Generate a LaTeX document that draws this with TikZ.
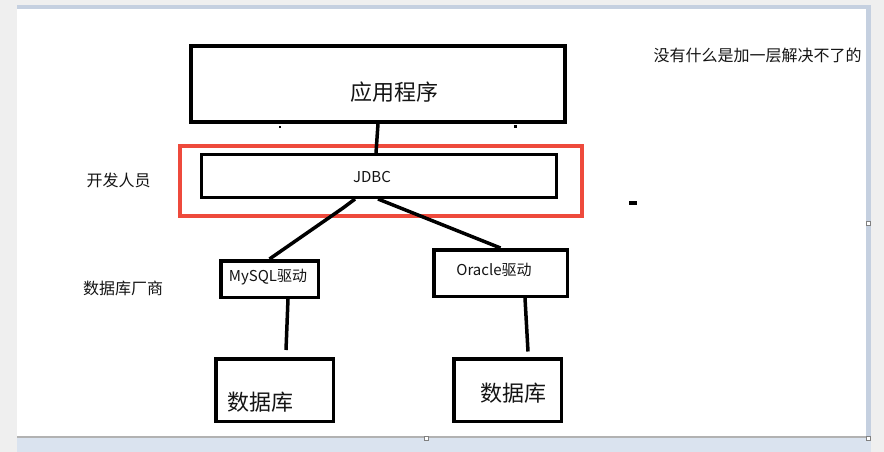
\documentclass[tikz,border=0pt]{standalone}
\usepackage{fontspec}
\setmainfont{Noto Sans CJK SC}
\definecolor{outergray}{RGB}{239,239,239}
\definecolor{bluebar}{RGB}{218,227,239}
\definecolor{blueline}{RGB}{197,208,224}
\definecolor{redframe}{RGB}{238,74,60}
\definecolor{txt}{RGB}{20,20,20}
\begin{document}
\begin{tikzpicture}[x=1pt,y=-1pt,
  box/.style={draw=black, line width=3.5pt, inner sep=0pt, fill=none},
  thinbox/.style={draw=black, line width=3pt, inner sep=0pt},
  wire/.style={draw=black, line width=3.5pt},
  lbl/.style={inner sep=0pt, text=txt, font=\fontsize{16}{19}\selectfont},
  biglbl/.style={inner sep=0pt, text=txt, font=\fontsize{22}{26}\selectfont},
  handle/.style={draw=gray, fill=white, line width=0.6pt, inner sep=0pt, minimum size=4pt}]
\useasboundingbox (0,0) rectangle (884,452);
% window background
\fill[outergray] (0,0) rectangle (884,452);
\fill[white] (17,9) rectangle (866,436);
\fill[blueline] (17,5) rectangle (866,9);
\fill[blueline] (866,5) rectangle (871,437);
\fill[bluebar] (17,437) rectangle (871,452);
\fill[gray!60] (17,436) rectangle (866,437.5);
\node[handle] (h1) at (868,223) {};
\node[handle] (h2) at (868,438) {};
\node[handle] (h3) at (426,438) {};

% boxes
\node[box, minimum width=374pt, minimum height=76pt] (app) at (378,84) {};
\node[draw=redframe, line width=4pt, inner sep=0pt, minimum width=402pt, minimum height=70pt] (red) at (381,181) {};
\node[thinbox, minimum width=355pt, minimum height=43pt] (jdbc) at (379,176) {};
\node[box, minimum width=97.5pt, minimum height=36.5pt] (mysql) at (269.5,279) {};
\node[box, minimum width=133.5pt, minimum height=46.5pt] (oracle) at (500.5,273) {};
\node[box, minimum width=117.5pt, minimum height=62.5pt] (db1) at (274.5,390) {};
\node[box, minimum width=107.5pt, minimum height=62.5pt] (db2) at (507.5,390) {};

% texts
\node[biglbl] (tapp) at (394,92) {应用程序};
\node[lbl, font=\fontsize{15}{18}\selectfont] (tjdbc) at (372,177) {JDBC};
\node[lbl, font=\fontsize{15}{18}\selectfont] (tmysql) at (268,277) {MySQL驱动};
\node[lbl, font=\fontsize{15}{18}\selectfont] (toracle) at (494,270) {Oracle驱动};
\node[biglbl] (tdb1) at (260.5,402) {数据库};
\node[biglbl] (tdb2) at (513.5,393) {数据库};
\node[lbl] (tdev) at (118.5,180) {开发人员};
\node[lbl] (tvendor) at (123,288) {数据库厂商};
\node[lbl] (tslogan) at (757.5,55) {没有什么是加一层解决不了的};
\node[fill=black, inner sep=0pt, minimum width=8pt, minimum height=4pt] (dash) at (633,203) {};
\node[fill=black, inner sep=0pt, minimum size=2.5pt] (tick1) at (280,127) {};
\node[fill=black, inner sep=0pt, minimum size=3pt] (tick2) at (515,126) {};

% connectors
\draw[wire] (app.south) -- ([xshift=-3pt]jdbc.north);
\draw[wire] ([xshift=-24pt]jdbc.south) -- ++(-12,9) -- (mysql.north);
\draw[wire] ([xshift=-1pt]jdbc.south) -- (oracle.north);
\draw[wire] ([xshift=18.5pt]mysql.south) -- ([shift={(11.5pt,7pt)}]db1.north);
\draw[wire] ([xshift=24.5pt]oracle.south) -- ([shift={(20.5pt,5.5pt)}]db2.north);
\end{tikzpicture}
\end{document}
